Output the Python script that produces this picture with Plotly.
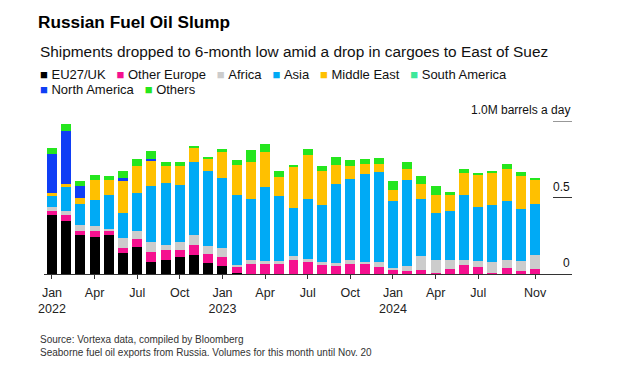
import plotly.graph_objects as go

# ---- data (million barrels a day) ----
months = ["2022-01","2022-02","2022-03","2022-04","2022-05","2022-06","2022-07","2022-08",
          "2022-09","2022-10","2022-11","2022-12","2023-01","2023-02","2023-03","2023-04",
          "2023-05","2023-06","2023-07","2023-08","2023-09","2023-10","2023-11","2023-12",
          "2024-01","2024-02","2024-03","2024-04","2024-05","2024-06","2024-07","2024-08",
          "2024-09","2024-10","2024-11"]

eu27_uk = [0.383, 0.344, 0.252, 0.244, 0.257, 0.135, 0.178, 0.076, 0.093, 0.108, 0.126, 0.069,
           0.052, 0.006, 0, 0, 0, 0, 0, 0, 0, 0, 0, 0,
           0, 0, 0, 0, 0, 0, 0, 0, 0, 0, 0]
other_europe = [0.031, 0.039, 0.026, 0.035, 0.024, 0.035, 0.048, 0.068, 0.061, 0.052, 0.061, 0.061,
                0.061, 0.046, 0.063, 0.063, 0.065, 0.089, 0.076, 0.063, 0.050, 0.067, 0.063, 0.043,
                0.024, 0.017, 0.026, 0.008, 0.030, 0.061, 0.048, 0.008, 0.041, 0.022, 0.035]
africa = [0.026, 0.031, 0.044, 0.037, 0.015, 0.067, 0.057, 0.063, 0.037, 0.050, 0.070, 0.056,
          0.057, 0.004, 0.031, 0.020, 0.022, 0.029, 0.024, 0.013, 0.024, 0.026, 0.018, 0.033,
          0.018, 0.033, 0.093, 0.085, 0.063, 0.033, 0.039, 0.072, 0.052, 0.065, 0.092]
asia = [0.067, 0.152, 0.135, 0.170, 0.222, 0.163, 0.244, 0.371, 0.405, 0.373, 0.477, 0.484,
        0.455, 0.462, 0.399, 0.484, 0.425, 0.316, 0.390, 0.373, 0.516, 0.529, 0.575, 0.588,
        0.438, 0.567, 0.373, 0.307, 0.320, 0.425, 0.353, 0.373, 0.386, 0.340, 0.333]
middle_east = [0.020, 0.024, 0.043, 0.131, 0.098, 0.211, 0.181, 0.161, 0.111, 0.124, 0.093, 0.085,
               0.176, 0.196, 0.242, 0.233, 0.124, 0.266, 0.290, 0.225, 0.120, 0.085, 0.065, 0.057,
               0.072, 0.072, 0.096, 0.118, 0.103, 0.144, 0.209, 0.209, 0.209, 0.216, 0.157]
south_america = [0]*35
north_america = [0.257, 0.342, 0.076, 0, 0, 0.016, 0, 0.013, 0, 0, 0, 0,
                 0, 0, 0, 0, 0, 0, 0, 0, 0, 0, 0, 0,
                 0, 0, 0, 0, 0, 0, 0, 0, 0, 0, 0]
others = [0.039, 0.050, 0.035, 0.033, 0.022, 0.043, 0.044, 0.054, 0.026, 0.026, 0.007, 0.013,
          0.013, 0.033, 0.074, 0.052, 0.039, 0.015, 0.035, 0.030, 0.052, 0.035, 0.031, 0.037,
          0.054, 0.041, 0.050, 0.054, 0.022, 0.026, 0.007, 0.013, 0.033, 0.026, 0.007]

series_names = ["EU27/UK", "Other Europe", "Africa", "Asia", "Middle East",
                "South America", "North America", "Others"]
series_values = [eu27_uk, other_europe, africa, asia, middle_east,
                 south_america, north_america, others]
series_colors = ["#000000", "#f5108f", "#cccccc", "#00aaf5", "#ffc000",
                 "#3ee89a", "#0f3ef5", "#25e61e"]

tick_idx = [0, 3, 6, 9, 12, 15, 18, 21, 24, 27, 30, 34]
tick_labels = ["Jan<br>2022", "Apr", "Jul", "Oct", "Jan<br>2023", "Apr", "Jul", "Oct",
               "Jan<br>2024", "Apr", "Jul", "Nov"]
y_ticks = [0, 0.5, 1.0]
y_tick_labels = ["0", "0.5", "1.0M barrels a day"]

# ---- layout geometry (page body has an 8px margin) ----
OFF = 8
W, H = 618 - OFF, 376 - OFF
ML, MR, MT, MB = 44 - OFF, 46, 121 - OFF, 102
PW, PH = W - ML - MR, H - MT - MB

def px_x(px):  # reference page pixel -> paper x
    return (px - OFF - ML) / PW

def px_y(py):  # reference page pixel -> paper y
    return (H - MB - (py - OFF)) / PH

FONT = "Liberation Sans, Arial, sans-serif"
x_idx = list(range(len(months)))

fig = go.Figure()
for name, vals, col in zip(series_names, series_values, series_colors):
    fig.add_trace(go.Bar(x=x_idx, y=vals, name=name, marker=dict(color=col, line=dict(width=0)),
                         customdata=months, hovertemplate="%{customdata}: %{y}<extra>" + name + "</extra>",
                         showlegend=False))

annotations = []
annotations.append(dict(text="Shipments dropped to 6-month low amid a drop in cargoes to East of Suez",
                        xref="paper", yref="paper", x=px_x(38), y=px_y(51), xanchor="left",
                        yanchor="middle", showarrow=False, font=dict(family=FONT, size=15.4, color="#111")))

def legend_row(items):
    parts = []
    for name, col in items:
        parts.append("<span style='color:%s'>\u25a0</span>\u00a0%s" % (col, name))
    return "\u00a0\u00a0\u00a0".join(parts)

pairs = list(zip(series_names, series_colors))
annotations.append(dict(text=legend_row(pairs[:6]), xref="paper", yref="paper", x=px_x(38), y=px_y(74),
                        xanchor="left", yanchor="middle", showarrow=False,
                        font=dict(family=FONT, size=13, color="#111")))
annotations.append(dict(text=legend_row(pairs[6:]), xref="paper", yref="paper", x=px_x(38), y=px_y(89.5),
                        xanchor="left", yanchor="middle", showarrow=False,
                        font=dict(family=FONT, size=13, color="#111")))
for v, lab in zip(y_ticks, y_tick_labels):
    annotations.append(dict(text=lab, xref="paper", yref="y", x=1.0, y=v, xanchor="right",
                            yanchor="bottom", yshift=2, showarrow=False,
                            font=dict(family=FONT, size=12, color="#111")))
annotations.append(dict(text="Source: Vortexa data, compiled by Bloomberg<br>Seaborne fuel oil exports from Russia. Volumes for this month until Nov. 20",
                        xref="paper", yref="paper", x=px_x(38), y=px_y(332), xanchor="left",
                        yanchor="top", align="left", showarrow=False,
                        font=dict(family=FONT, size=10, color="#333")))

shapes = []
for v in y_ticks[1:]:
    shapes.append(dict(type="line", xref="paper", yref="y", x0=px_x(553), x1=1.0, y0=v, y1=v,
                       line=dict(color="#333", width=1)))

fig.update_layout(
    width=W, height=H,
    margin=dict(l=ML, r=MR, t=MT, b=MB, pad=0),
    paper_bgcolor="white", plot_bgcolor="white",
    barmode="stack", bargap=0.3,
    title=dict(text="<b>Russian Fuel Oil Slump</b>", xref="container", yref="container",
               x=(38 - OFF) / W, y=1 - (22 - OFF) / H, xanchor="left", yanchor="middle",
               font=dict(family=FONT, size=17.2, color="#000")),
    xaxis=dict(range=[-0.56, 36.6], tickmode="array", tickvals=tick_idx, ticktext=tick_labels,
               showline=True, linecolor="#333", linewidth=1, ticks="outside", ticklen=4,
               tickcolor="#333", showgrid=False, zeroline=False, ticklabelstandoff=3,
               tickfont=dict(family=FONT, size=12.5, color="#222"), fixedrange=True),
    yaxis=dict(range=[0, 1.0], showticklabels=False, showgrid=False, zeroline=False,
               showline=False, ticks="", fixedrange=True),
    annotations=annotations,
    shapes=shapes,
    showlegend=False,
)

fig.write_html("out.html")
